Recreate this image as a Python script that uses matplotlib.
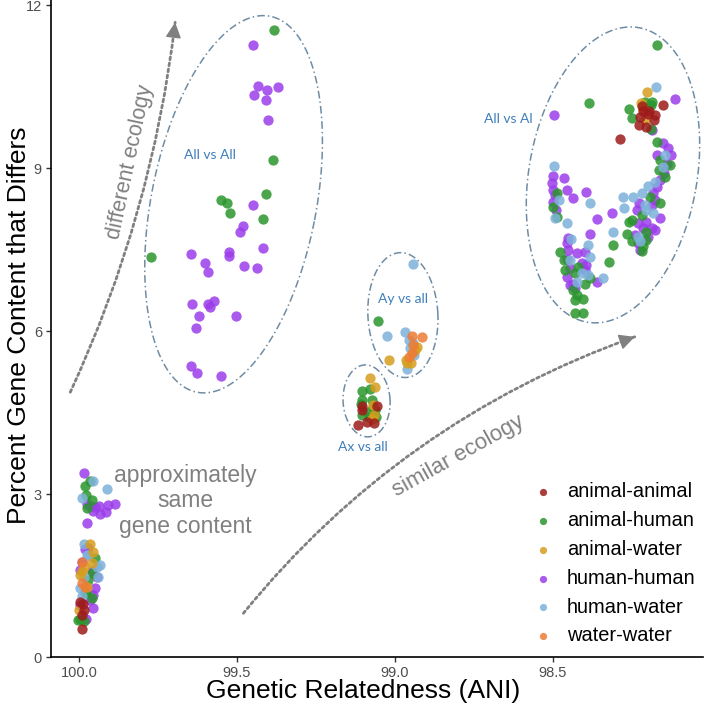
import numpy as np
import matplotlib
matplotlib.use("Agg")
import matplotlib.pyplot as plt

plt.rcParams['font.family'] = ['Liberation Sans', 'DejaVu Sans']

# ---- data (ANI, percent gene content that differs) ----
animal_animal_ani = [99.988, 99.986, 99.991, 99.990, 99.997,
                     99.105, 99.056, 99.103, 99.116, 99.090, 99.066,
                     98.217, 98.153, 98.198, 98.177, 98.225, 98.227, 98.206, 98.180, 98.288, 98.195, 98.215]
animal_animal_pct = [0.99, 0.87, 0.78, 0.53, 1.02,
                     4.63, 4.63, 4.55, 4.28, 4.34, 4.32,
                     10.15, 10.16, 10.01, 9.98, 9.94, 9.79, 9.76, 9.89, 9.54, 10.05, 10.05]

animal_human_ani = [99.965, 99.982, 99.978, 99.974, 99.960, 99.949, 99.971, 99.978, 99.960, 99.997, 99.986, 99.981, 100.002, 99.960,
                    99.383, 99.387, 99.407, 99.550, 99.532, 99.523, 99.419, 99.774,
                    99.105, 99.079, 99.105, 99.074, 99.109, 99.071, 99.084, 99.063, 99.105, 99.081, 99.060,
                    99.053,
                    98.172, 98.385, 98.259, 98.251, 98.209, 98.185, 98.191, 98.190, 98.172, 98.161, 98.130, 98.164,
                    98.144, 98.193, 98.161, 98.219, 98.251, 98.259, 98.204, 98.267, 98.251, 98.204, 98.214, 98.219,
                    98.488, 98.499, 98.487, 98.309, 98.478, 98.465, 98.322, 98.420, 98.462, 98.430, 98.383, 98.399,
                    98.436, 98.425, 98.430, 98.404, 98.430, 98.404]
animal_human_pct = [3.25, 3.15, 2.99, 2.74, 2.90, 1.82, 1.43, 1.19, 1.09, 0.70, 0.66, 1.21, 0.69, 1.55,
                    11.55, 9.16, 8.53, 8.42, 8.37, 8.17, 8.07, 7.37,
                    4.91, 4.93, 4.74, 4.74, 4.66, 4.61, 4.52, 4.55, 4.46, 4.43, 4.42,
                    6.20,
                    11.28, 10.21, 10.10, 9.93, 10.23, 10.23, 10.17, 9.73, 9.49, 9.15, 9.06, 8.97,
                    8.85, 8.48, 8.36, 8.14, 8.05, 8.02, 7.83, 7.80, 7.67, 7.68, 7.57, 7.48,
                    8.54, 8.29, 8.11, 7.59, 7.47, 7.31, 7.28, 7.19, 7.13, 7.07, 6.98, 6.88,
                    6.76, 6.67, 6.58, 6.59, 6.34, 6.34]

animal_water_ani = [99.967, 99.955, 99.986, 99.997, 99.974, 99.999, 99.960, 99.990,
                    99.079, 99.063, 99.071, 99.068, 99.074,
                    98.930, 98.937, 99.018, 98.965, 98.949, 98.961,
                    98.202, 98.214, 98.209, 98.220]
animal_water_pct = [2.09, 1.94, 1.67, 1.51, 1.30, 0.87, 1.73, 1.58,
                    5.15, 4.97, 4.64, 4.46, 4.38,
                    5.72, 5.66, 5.48, 5.48, 5.41, 5.42,
                    10.40, 10.09, 9.89, 10.20]

human_human_ani = [99.984, 99.974, 99.965, 99.949, 99.936, 99.910, 99.886, 99.934, 99.915, 99.955, 99.976,
                   99.981, 99.960, 99.944, 99.949, 99.957, 99.967, 99.997, 99.955, 99.978, 99.971, 99.997, 99.991,
                   99.450, 99.433, 99.406, 99.371, 99.447, 99.408, 99.401, 99.448, 99.482, 99.491, 99.647, 99.524,
                   99.525, 99.419, 99.600, 99.591, 99.478, 99.437, 99.643, 99.593, 99.585, 99.573, 99.621, 99.504,
                   99.629, 99.645, 99.628, 99.552,
                   98.113, 98.497, 98.151, 98.135, 98.172, 98.125, 98.140, 98.149, 98.161, 98.172, 98.183, 98.177,
                   98.227, 98.188, 98.235, 98.161, 98.204, 98.230, 98.214, 98.188, 98.177, 98.241, 98.230, 98.198,
                   98.225, 98.188,
                   98.501, 98.464, 98.502, 98.457, 98.394, 98.499, 98.494, 98.436, 98.499, 98.491, 98.362, 98.313,
                   98.383, 98.452, 98.457, 98.399, 98.452, 98.425, 98.457, 98.409, 98.394, 98.446, 98.399, 98.457,
                   98.362, 98.436, 98.446, 98.430]
human_human_pct = [3.40, 2.83, 2.78, 2.77, 2.78, 2.80, 2.82, 2.64, 2.68, 2.70, 2.48,
                   1.99, 1.58, 1.47, 1.27, 1.15, 1.05, 0.96, 0.90, 0.70, 2.01, 1.61, 1.76,
                   11.28, 10.52, 10.44, 10.49, 10.35, 10.25, 9.90, 8.33, 7.94, 7.83, 7.42, 7.47,
                   7.39, 7.53, 7.26, 7.09, 7.20, 7.17, 6.50, 6.50, 6.45, 6.56, 6.29, 6.28,
                   6.06, 5.36, 5.23, 5.17,
                   10.28, 9.98, 9.46, 9.37, 9.25, 9.25, 9.09, 8.91, 8.78, 8.66, 8.54, 8.42,
                   8.36, 8.33, 8.23, 8.08, 8.02, 7.99, 7.90, 7.90, 7.86, 7.77, 7.62, 7.74,
                   7.50, 9.71,
                   8.86, 8.83, 8.74, 8.61, 8.57, 8.60, 8.51, 8.45, 8.39, 8.23, 8.07, 8.18,
                   7.80, 7.71, 7.62, 7.47, 7.50, 7.45, 7.34, 7.25, 7.22, 7.16, 7.13, 7.01,
                   6.90, 6.88, 6.85, 6.79]

human_water_ani = [99.957, 99.912, 99.991, 99.986, 99.974, 99.934, 99.944, 99.986, 99.997, 99.991, 99.939, 99.971,
                   98.944, 99.024, 98.967, 98.942, 98.953, 98.940, 98.961, 98.955,
                   98.174, 98.146, 98.153, 98.177, 98.198, 98.217, 98.246, 98.278, 98.275, 98.209, 98.204, 98.183,
                   98.230, 98.225, 98.496, 98.480, 98.383, 98.494, 98.457, 98.309, 98.388, 98.444, 98.383, 98.446,
                   98.409, 98.388, 98.343, 98.425]
human_water_pct = [3.25, 3.10, 2.93, 2.09, 1.88, 1.70, 1.67, 1.48, 1.27, 1.12, 1.48, 1.88,
                   7.24, 5.91, 5.98, 5.78, 5.69, 5.56, 5.31, 5.84,
                   10.49, 9.25, 9.03, 8.75, 8.67, 8.54, 8.48, 8.47, 8.28, 8.33, 8.23, 8.17,
                   7.74, 7.67, 9.04, 8.42, 8.37, 8.09, 8.00, 7.82, 7.59, 7.70, 7.37, 7.31,
                   7.07, 7.04, 6.98, 6.91]

water_water_ani = [99.991, 99.991, 99.981,
                   98.947, 98.915, 98.947, 98.955, 98.944]
water_water_pct = [1.76, 1.36, 1.30,
                   5.91, 5.89, 5.60, 5.53, 5.75]

groups = ["animal-animal", "animal-human", "animal-water", "human-human", "human-water", "water-water"]
colors = {"animal-animal": "#9E1B1B", "animal-human": "#2A962C", "animal-water": "#D69E1E",
          "human-human": "#9B3EEA", "human-water": "#7DB2DA", "water-water": "#EE7C36"}
series = {"animal-animal": (animal_animal_ani, animal_animal_pct),
          "animal-human": (animal_human_ani, animal_human_pct),
          "animal-water": (animal_water_ani, animal_water_pct),
          "human-human": (human_human_ani, human_human_pct),
          "human-water": (human_water_ani, human_water_pct),
          "water-water": (water_water_ani, water_water_pct)}
draw_order = ["human-human", "animal-human", "human-water", "animal-water", "water-water", "animal-animal"]

x_ticks = [100.0, 99.5, 99.0, 98.5]
y_ticks = [0, 3, 6, 9, 12]

fig = plt.figure(figsize=(7.05, 7.09), dpi=100)
ax = fig.add_axes([51 / 705, 51.7 / 709, 652 / 705, 657.3 / 709])
ax.set_xlim(100.089, 98.025)
ax.set_ylim(0, 12.1)

handles = {}
for g in draw_order:
    xs, ys = series[g]
    handles[g] = ax.scatter(xs, ys, s=55, color=colors[g], alpha=0.85, linewidths=0, label=g, zorder=3)

# ellipses drawn in pixel space around the clusters
def ellipse(cx, cy, w_px, h_px, angle):
    t = np.linspace(0, 2 * np.pi, 400)
    a = np.deg2rad(angle)
    ex = w_px / 2 * np.cos(t)
    ey = h_px / 2 * np.sin(t)
    dx = ex * np.cos(a) - ey * np.sin(a)
    dy = ex * np.sin(a) + ey * np.cos(a)
    c = ax.transData.transform((cx, cy))
    pts = ax.transData.inverted().transform(np.column_stack([c[0] + dx, c[1] + dy]))
    ax.plot(pts[:, 0], pts[:, 1], color='#6F8CA4', lw=1.1, linestyle=(0, (5, 2, 1, 2)), zorder=2)

ellipse(99.511, 8.34, 165, 383, -11)
ellipse(98.310, 8.88, 168, 299, -10)
ellipse(98.975, 6.30, 70, 125, 3)
ellipse(99.090, 4.72, 47, 72, 3)

lab_kw = dict(color='#3F7FBA', fontsize=10, family=['Lato', 'DejaVu Sans'], ha='center', va='center')
ax.text(99.587, 9.25, "All vs All", **lab_kw)
ax.text(98.640, 9.91, "All vs Al", **lab_kw)
ax.text(98.976, 6.59, "Ay vs all", **lab_kw)
ax.text(99.101, 3.88, "Ax vs all", **lab_kw)

# ecology arrows: dotted curved shaft plus a solid head along the end tangent
def curved_arrow(start, end, rad):
    ax.annotate("", xy=end, xytext=start,
                arrowprops=dict(arrowstyle='-', color='#808080', lw=2, linestyle=(0, (1, 1.2)),
                                connectionstyle='arc3,rad=%s' % rad, shrinkA=0, shrinkB=0))
    p0 = ax.transData.transform(start)
    p2 = ax.transData.transform(end)
    d = p2 - p0
    ctrl = (p0 + p2) / 2 + rad * np.array([d[1], -d[0]])
    u = (p2 - ctrl) / np.hypot(*(p2 - ctrl))
    ax.annotate("", xy=end, xytext=(-u[0] * 13, -u[1] * 13), textcoords='offset pixels',
                arrowprops=dict(arrowstyle='-|>', color='#808080', lw=1, mutation_scale=24,
                                shrinkA=0, shrinkB=0))

curved_arrow((100.028, 4.88), (99.696, 11.69), 0.08)
curved_arrow((99.480, 0.81), (98.241, 5.90), -0.14)

ax.text(99.839, 9.12, "different ecology", rotation=78, color='#808080', fontsize=15.5,
        ha='center', va='center', rotation_mode='anchor')
ax.text(98.799, 3.71, "similar ecology", rotation=29, color='#808080', fontsize=16,
        ha='center', va='center', rotation_mode='anchor')
ax.text(99.665, 2.88, "approximately\nsame\ngene content", color='#808080', fontsize=16.5,
        ha='center', va='center', linespacing=1.12)

# axes styling
for side in ['top', 'right']:
    ax.spines[side].set_visible(False)
for side in ['left', 'bottom']:
    ax.spines[side].set_linewidth(1.2)
    ax.spines[side].set_color('black')
ax.set_xticks(x_ticks)
ax.set_xticklabels(["%.1f" % v for v in x_ticks])
ax.set_yticks(y_ticks)
ax.tick_params(length=3.5, width=1.0, color='#333333', labelcolor='#4D4D4D', labelsize=10.5, pad=3)
ax.set_xlabel("Genetic Relatedness (ANI)", fontsize=19)
ax.set_ylabel("Percent Gene Content that Differs", fontsize=19)
ax.xaxis.set_label_coords(0.4785, -0.033)
ax.yaxis.set_label_coords(-0.030, 0.505)

ax.legend([handles[g] for g in groups], groups, loc='upper left', bbox_to_anchor=(0.739, 0.266),
          frameon=False, fontsize=14.4, borderpad=0, borderaxespad=0, handlelength=1.0,
          handletextpad=0.7, labelspacing=0.49, markerscale=0.7)

fig.savefig("out.png", dpi=100)
